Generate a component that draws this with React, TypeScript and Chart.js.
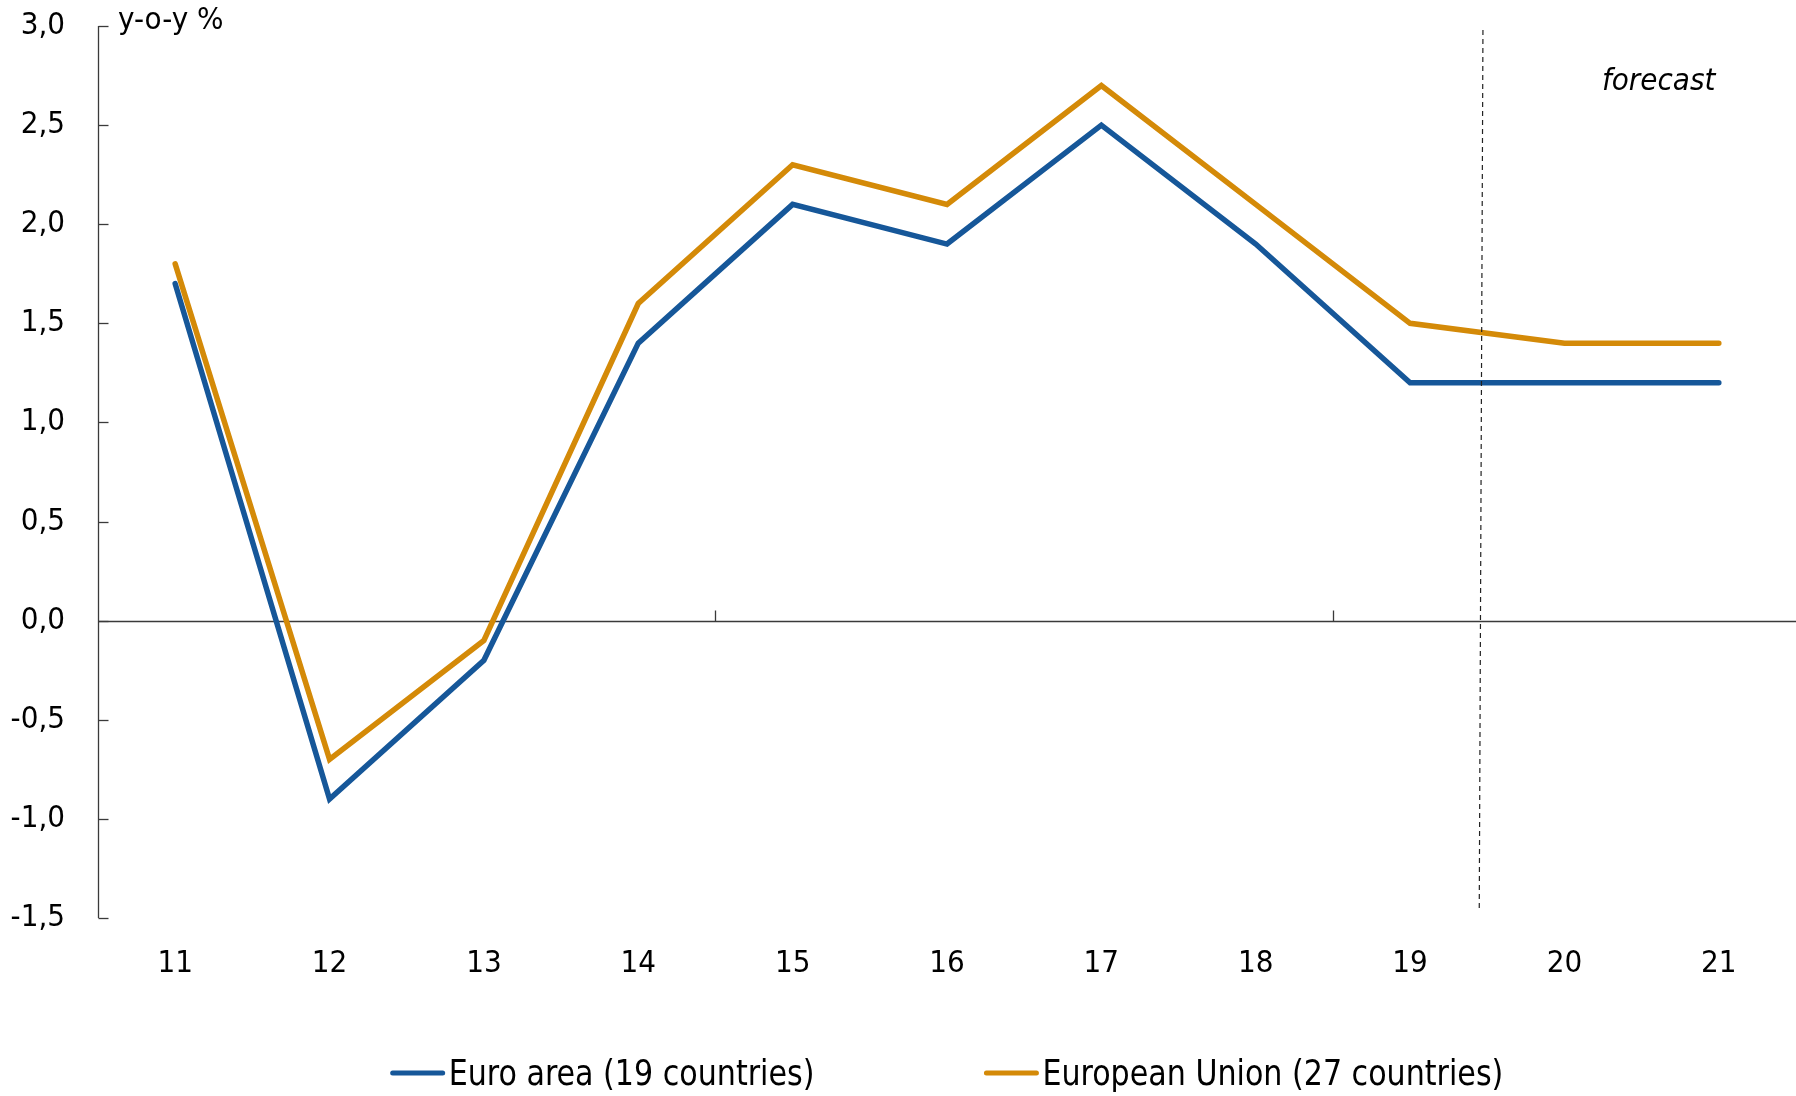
import React, { useEffect, useRef } from 'react';
import { Chart, registerables } from 'chart.js';

Chart.register(...registerables);

const years = ['11', '12', '13', '14', '15', '16', '17', '18', '19', '20', '21'];
const euroArea = [1.7, -0.9, -0.2, 1.4, 2.1, 1.9, 2.5, 1.9, 1.2, 1.2, 1.2];
const europeanUnion = [1.8, -0.7, -0.1, 1.6, 2.3, 2.1, 2.7, 2.1, 1.5, 1.4, 1.4];
const seriesNames = ['Euro area (19 countries)', 'European Union (27 countries)'];
const seriesColors = ['#165799', '#D48A08'];
const yMin = -1.5;
const yMax = 3.0;
const yStep = 0.5;
const xTickMarks = [3.5, 7.5];
const forecastBoundary = 8.46;
const unitLabel = 'y-o-y %';
const forecastLabel = 'forecast';

const FONT = "'DejaVu Sans Condensed', 'DejaVu Sans', sans-serif";
const AXIS_COLOR = '#3a3a3a';

const decorPlugin = {
  id: 'decor',
  beforeDatasetsDraw(chart: any) {
    const { ctx, chartArea, scales } = chart;
    const x = scales.x;
    const y = scales.y;
    ctx.save();
    ctx.strokeStyle = AXIS_COLOR;
    ctx.lineWidth = 1.3;
    const left = Math.round(chartArea.left) + 0.5;
    ctx.beginPath();
    ctx.moveTo(left, y.getPixelForValue(yMax));
    ctx.lineTo(left, y.getPixelForValue(yMin));
    ctx.stroke();
    for (let v = yMin; v <= yMax + 1e-9; v += yStep) {
      const py = Math.round(y.getPixelForValue(v)) + 0.5;
      ctx.beginPath();
      ctx.moveTo(left, py);
      ctx.lineTo(left + 10, py);
      ctx.stroke();
    }
    const y0 = Math.round(y.getPixelForValue(0)) + 0.5;
    ctx.beginPath();
    ctx.moveTo(left, y0);
    ctx.lineTo(chartArea.right, y0);
    ctx.stroke();
    for (const t of xTickMarks) {
      const px = Math.round(x.getPixelForValue(t)) + 0.5;
      ctx.beginPath();
      ctx.moveTo(px, y0);
      ctx.lineTo(px, y0 - 11);
      ctx.stroke();
    }
    ctx.restore();
  },
  afterDatasetsDraw(chart: any) {
    const { ctx, chartArea, scales } = chart;
    const x = scales.x;
    const y = scales.y;
    ctx.save();
    ctx.strokeStyle = '#222';
    ctx.lineWidth = 1.2;
    ctx.setLineDash([5, 4]);
    ctx.beginPath();
    ctx.moveTo(x.getPixelForValue(forecastBoundary + 0.012), y.getPixelForValue(2.98));
    ctx.lineTo(x.getPixelForValue(forecastBoundary - 0.012), y.getPixelForValue(-1.47));
    ctx.stroke();
    ctx.setLineDash([]);
    ctx.fillStyle = '#000';
    ctx.textBaseline = 'alphabetic';
    ctx.textAlign = 'left';
    ctx.font = `31px ${FONT}`;
    ctx.fillText(unitLabel, chartArea.left + 20, 29);
    ctx.font = `italic 31px ${FONT}`;
    ctx.fillText(forecastLabel, 1602, 90);
    // legend
    const sx = 0.93;
    ctx.font = `36px ${FONT}`;
    const lineLen = 54;
    const gap = 4;
    const spacing = 170;
    const widths = chart.data.datasets.map((d: any) => lineLen + gap + ctx.measureText(d.label).width * sx);
    const total = widths.reduce((a: number, b: number) => a + b, 0) + spacing * (widths.length - 1);
    let cx = (chartArea.left + chartArea.right) / 2 - total / 2;
    const ly = 1073;
    chart.data.datasets.forEach((d: any, i: number) => {
      ctx.strokeStyle = d.borderColor;
      ctx.lineWidth = 5;
      ctx.lineCap = 'round';
      ctx.beginPath();
      ctx.moveTo(cx + 2, ly);
      ctx.lineTo(cx + lineLen - 2, ly);
      ctx.stroke();
      ctx.fillStyle = '#000';
      ctx.save();
      ctx.translate(cx + lineLen + gap, 1085);
      ctx.scale(sx, 1);
      ctx.fillText(d.label, 0, 0);
      ctx.restore();
      cx += widths[i] + spacing;
    });
    ctx.restore();
  },
};

export default function App() {
  const canvasRef = useRef<HTMLCanvasElement | null>(null);

  useEffect(() => {
    const canvas = canvasRef.current;
    if (!canvas) return;
    const mk = (i: number, data: number[]) => ({
      label: seriesNames[i],
      data,
      borderColor: seriesColors[i],
      backgroundColor: seriesColors[i],
      borderWidth: 5.5,
      pointRadius: 0,
      borderCapStyle: 'round',
      borderJoinStyle: 'miter',
      tension: 0,
    });
    const chart = new Chart(canvas, {
      type: 'line',
      data: {
        labels: years,
        datasets: [mk(0, euroArea), mk(1, europeanUnion)],
      },
      options: {
        responsive: false,
        animation: false,
        layout: { padding: { top: 26, right: 0, bottom: 0, left: 0 } },
        plugins: {
          legend: { display: false },
          tooltip: { enabled: false },
        },
        scales: {
          x: {
            offset: true,
            grid: { display: false, drawTicks: false },
            border: { display: false },
            ticks: {
              color: '#000',
              padding: 27,
              font: { family: FONT, size: 31 },
              maxRotation: 0,
              autoSkip: false,
            },
            afterFit(scale: any) {
              scale.height = 1096 - 918;
              scale.paddingLeft = 0;
              scale.paddingRight = 0;
            },
          },
          y: {
            min: yMin,
            max: yMax,
            grid: { display: false, drawTicks: false },
            border: { display: false },
            ticks: {
              stepSize: yStep,
              color: '#000',
              padding: 33,
              font: { family: FONT, size: 31 },
              callback: (v: any) => Number(v).toFixed(1).replace('.', ','),
            },
            afterFit(scale: any) {
              scale.width = 98;
              scale.paddingTop = 0;
              scale.paddingBottom = 0;
            },
          },
        },
      },
      plugins: [decorPlugin],
    } as any);
    return () => chart.destroy();
  }, []);

  return (
    <div style={{ position: 'fixed', left: 0, top: 0, width: 1796, height: 1096, background: '#fff' }}>
      <canvas ref={canvasRef} width={1796} height={1096} style={{ display: 'block' }} />
    </div>
  );
}
